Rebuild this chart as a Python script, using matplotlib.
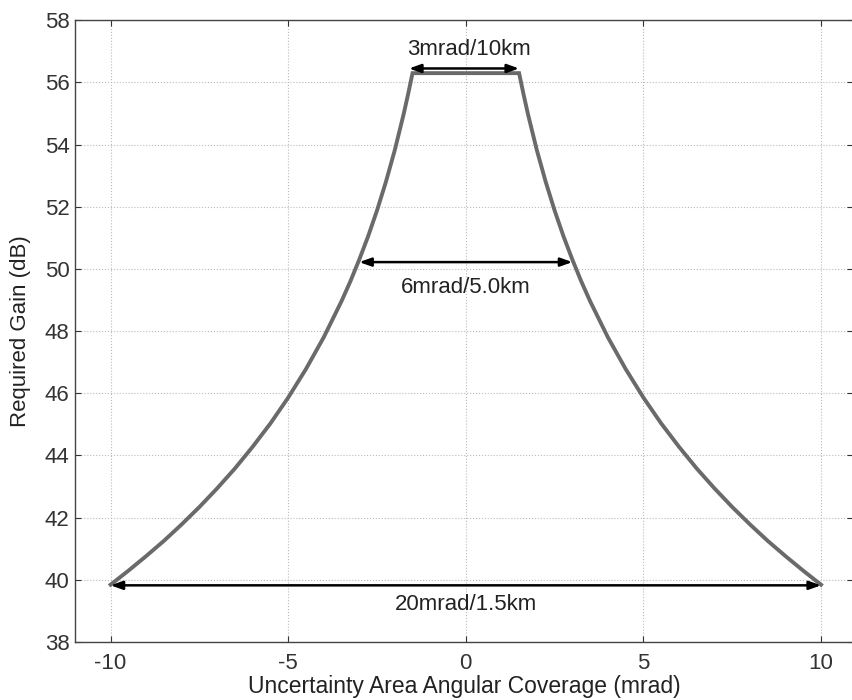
import matplotlib
matplotlib.use("Agg")
import matplotlib.pyplot as plt
import numpy as np

plt.rcParams['font.family'] = ['Liberation Sans', 'DejaVu Sans']
plt.rcParams['axes.unicode_minus'] = False

# Curve points (right half; left half is mirrored)
half_x = [1.5, 1.625, 1.75, 2.0, 2.25, 2.5, 2.75, 3.0, 3.25, 3.5, 4.0, 4.5, 5.0,
          5.5, 6.0, 6.5, 7.0, 7.5, 8.0, 8.5, 9.0, 9.5, 10.0]
half_y = [56.30, 55.62, 54.98, 53.82, 52.80, 51.88, 51.05, 50.30, 49.60, 48.96, 47.80, 46.78, 45.86,
          45.03, 44.28, 43.58, 42.94, 42.34, 41.78, 41.25, 40.76, 40.29, 39.84]

# Annotation arrows: (x_left, x_right, y) and labels (x, y, text)
arrow_x0 = [-1.6, -3.0, -10.0]
arrow_x1 = [1.5, 3.0, 10.0]
arrow_y = [56.45, 50.22, 39.82]
label_x = [0.1, 0.0, 0.0]
label_y = [57.05, 49.4, 39.2]
label_txt = ["3mrad/10km", "6mrad/5.0km", "20mrad/1.5km"]

xticks = [-10, -5, 0, 5, 10]
yticks = list(range(38, 59, 2))

x = [-v for v in half_x[::-1]] + half_x
y = half_y[::-1] + half_y

fig = plt.figure(figsize=(8.53, 7.0), dpi=100)
ax = fig.add_axes([0.088, 0.083, 0.912, 0.888])

ax.plot(x, y, color='#6a6a6a', lw=2.8, solid_joinstyle='miter')

for x0, x1, yy in zip(arrow_x0, arrow_x1, arrow_y):
    ax.annotate('', xy=(x1, yy), xytext=(x0, yy),
                arrowprops=dict(arrowstyle='<|-|>,head_length=0.7,head_width=0.25',
                                color='black', lw=1.8, shrinkA=0, shrinkB=0))
for lx, ly, t in zip(label_x, label_y, label_txt):
    ax.text(lx, ly, t, ha='center', va='center', fontsize=16, color='#222222')

ax.set_xlim(-11, 10.9)
ax.set_ylim(38, 58)
ax.set_xticks(xticks)
ax.set_yticks(yticks)
ax.tick_params(direction='in', top=True, right=True, labelsize=16, length=4, colors='#333333')
ax.tick_params(axis='x', pad=8)
ax.tick_params(axis='y', pad=4)
ax.grid(True, linestyle=':', color='#bbbbbb', lw=0.8)
for s in ax.spines.values():
    s.set_color('#444444')
    s.set_linewidth(1.0)

ax.set_xlabel('Uncertainty Area Angular Coverage (mrad)', fontsize=16.5, labelpad=1, color='#222222')
ax.set_ylabel('Required Gain (dB)', fontsize=16, labelpad=10, color='#222222')

fig.savefig('out.png', dpi=100)
